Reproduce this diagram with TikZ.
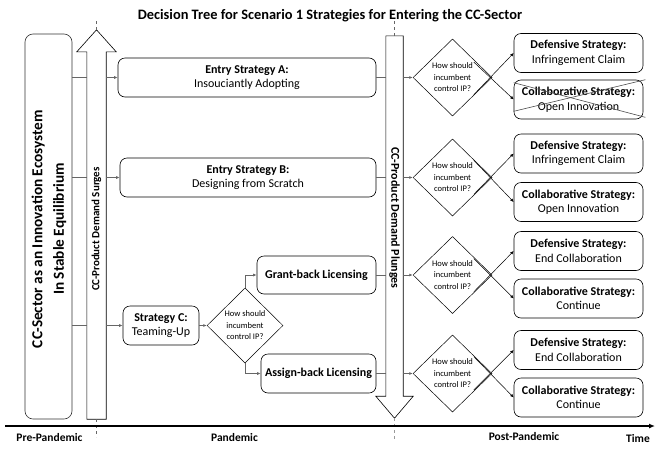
\documentclass[tikz,border=0pt]{standalone}
\usepackage{fontspec}
\setmainfont{Carlito}
\usetikzlibrary{shapes.geometric,arrows.meta,calc}
\begin{document}
\begin{tikzpicture}[x=1pt,y=-1pt,
  box/.style={draw=black,line width=0.6pt,rounded corners=7pt,minimum height=39pt,inner sep=0pt,align=center,font=\fontsize{12}{14.5}\selectfont},
  obox/.style={box,minimum width=129pt,minimum height=39pt},
  dec/.style={diamond,draw=black,line width=0.5pt,minimum width=79pt,minimum height=77pt,inner sep=0pt,align=center,font=\fontsize{8.5}{11.5}\selectfont},
  conn/.style={draw=black!60,line width=0.8pt},
  tip/.style={-{Latex[length=3.5pt,width=3pt]}},
  shaftline/.style={draw=black,line width=0.6pt},
  guide/.style={draw=black!60,dashed,line width=0.6pt},
  lbl/.style={font=\bfseries\fontsize{11.5}{13}\selectfont}]
\useasboundingbox (0,0) rectangle (658,453);

% title
\node[font=\bfseries\fontsize{14.4}{16}\selectfont] (title) at (330,16) {Decision Tree for Scenario 1 Strategies for Entering the CC-Sector};

% left box
\node[draw=black!80,line width=0.6pt,rounded corners=8pt,minimum width=47pt,minimum height=385pt,inner sep=0pt] (L) at (48.5,226.5) {};
\node[rotate=90,align=center,font=\bfseries\fontsize{15.3}{21.5}\selectfont] (Ltxt) at (49,229) {CC-Sector as an Innovation Ecosystem\\In Stable Equilibrium};

% up arrow
\node[minimum width=19pt,minimum height=367pt,inner sep=0pt] (upS) at (96.5,235.5) {};
\draw[shaftline] (upS.south west) -- (upS.north west) -- ++(-10,0) -- ($(upS.north)+(0,-22)$) -- ($(upS.north east)+(10,0)$) -- (upS.north east) -- (upS.south east) -- cycle;
\node[rotate=90,font=\bfseries\fontsize{11}{13}\selectfont] (upT) at (96.5,229) {CC-Product Demand Surges};
\draw[guide] ($(upS.north)+(0,-22)$) -- ++(0,-10);
\draw[guide] (upS.south) -- ++(0,18);

% down arrow
\node[minimum width=17pt,minimum height=360pt,inner sep=0pt] (dnS) at (394.5,216) {};
\draw[shaftline] (dnS.north west) -- (dnS.south west) -- ++(-10,0) -- ($(dnS.south)+(0,22)$) -- ($(dnS.south east)+(10,0)$) -- (dnS.south east) -- (dnS.north east) -- cycle;
\node[rotate=-90,font=\bfseries\fontsize{12}{14}\selectfont] (dnT) at (394.5,218) {CC-Product Demand Plunges};
\draw[guide] (dnS.north) -- ++(0,-16);
\draw[guide,draw=black!40] ($(dnS.south)+(0,22)$) -- ++(0,22);

% strategy boxes
\node[box,minimum width=258pt] (A) at (247,77.5) {\textbf{Entry Strategy A:}\\Insouciantly Adopting};
\node[box,minimum width=256pt] (B) at (248,177.5) {\textbf{Entry Strategy B:}\\Designing from Scratch};
\node[box,minimum width=76pt] (C) at (161,325.5) {\textbf{Strategy C:}\\Teaming-Up};
\node[dec,minimum width=76pt,minimum height=75pt] (DC) at (245,325.5) {How should\\incumbent\\control IP?};
\node[box,minimum width=119pt,minimum height=38pt] (G) at (316.5,275) {\textbf{Grant-back Licensing}};
\node[box,minimum width=115pt] (S) at (318.5,373.5) {\textbf{Assign-back Licensing}};

% decisions after plunge
\node[dec] (D1) at (452.5,77.5) {How should\\incumbent\\control IP?};
\node[dec] (D2) at (452.5,177.5) {How should\\incumbent\\control IP?};
\node[dec] (D3) at (452.5,275) {How should\\incumbent\\control IP?};
\node[dec] (D4) at (452.5,373.5) {How should\\incumbent\\control IP?};

% outcomes
\node[obox] (O1) at (578.5,53) {\textbf{Defensive Strategy:}\\Infringement Claim};
\node[obox] (O2) at (578.5,99.5) {\textbf{Collaborative Strategy:}\\Open Innovation};
\node[obox] (O3) at (578.5,153.5) {\textbf{Defensive Strategy:}\\Infringement Claim};
\node[obox] (O4) at (578.5,202) {\textbf{Collaborative Strategy:}\\Open Innovation};
\node[obox] (O5) at (578.5,251) {\textbf{Defensive Strategy:}\\End Collaboration};
\node[obox] (O6) at (578.5,298.5) {\textbf{Collaborative Strategy:}\\Continue};
\node[obox] (O7) at (578.5,350) {\textbf{Defensive Strategy:}\\End Collaboration};
\node[obox] (O8) at (578.5,397.5) {\textbf{Collaborative Strategy:}\\Continue};

% cross out
\draw[black!70,line width=0.6pt] ($(O2.north west)+(0,3)$) -- ($(O2.south east)+(2,-2)$);
\draw[black!70,line width=0.6pt] ($(O2.north east)+(2,0)$) -- ($(O2.south west)+(0,-8)$);

% connectors left
\foreach \n in {A,B,C}{
  \draw[conn] (L.east |- \n) -- (upS.west |- \n);
  \draw[conn,tip] (upS.east |- \n) -- (\n.west);
}
\draw[conn,tip] (C.east) -- (DC.west);
\draw[conn,tip] (DC.north) |- (G.west);
\draw[conn,tip] (DC.south) |- (S.west);

% connectors right
\draw[conn] (A.east) -- (dnS.west |- A);
\draw[conn,tip] (dnS.east |- A) -- (D1.west);
\draw[conn] (B.east) -- (dnS.west |- B);
\draw[conn,tip] (dnS.east |- B) -- (D2.west);
\draw[conn] (G.east) -- (dnS.west |- G);
\draw[conn,tip] (dnS.east |- G) -- (D3.west);
\draw[conn] (S.east) -- (dnS.west |- S);
\draw[conn,tip] (dnS.east |- S) -- (D4.west);

% decision branches
\foreach \d/\u/\l in {D1/O1/O2,D2/O3/O4,D3/O5/O6,D4/O7/O8}{
  \coordinate (X\d) at ($(\d.east)+(-2,0)$);
  \draw[black,line width=0.5pt,tip] ($(X\d)!-0.7!(\u.west)$) -- (\u.west);
  \draw[black,line width=0.5pt,tip] ($(X\d)!-0.7!(\l.west)$) -- (\l.west);
}

% time axis
\coordinate (ax0) at (5,426);
\coordinate (ax1) at (655,426);
\draw[line width=1.3pt,-{Latex[length=6pt,width=5pt]}] (ax0) -- (ax1);
\node[lbl] (pre) at (49.5,437) {Pre-Pandemic};
\node[lbl] (pan) at (234.5,437) {Pandemic};
\node[lbl] (post) at (524,436) {Post-Pandemic};
\node[lbl] (time) at (638,438) {Time};
\end{tikzpicture}
\end{document}
